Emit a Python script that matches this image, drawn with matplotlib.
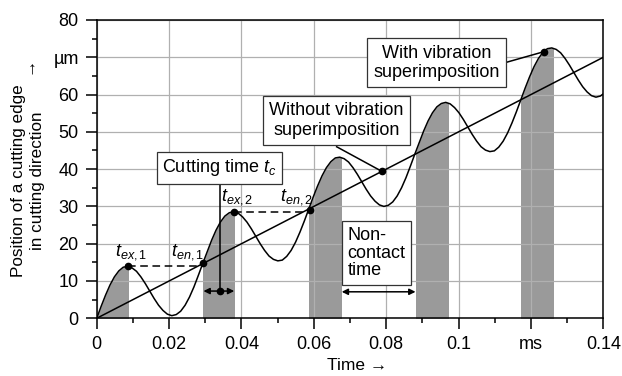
import numpy as np
import matplotlib.pyplot as plt
from matplotlib.patches import Rectangle
from matplotlib.ticker import MultipleLocator

plt.rcParams.update({
    'font.family': ['Liberation Sans', 'DejaVu Sans'],
    'font.size': 13,
    'mathtext.fontset': 'custom',
    'mathtext.rm': 'Liberation Sans',
    'mathtext.it': 'Liberation Sans:italic',
})

# cutting edge position with vibration superimposition (ms, um)
time = [
    0.00000, 0.00122, 0.00244, 0.00366, 0.00488, 0.00610, 0.00733, 0.00855,
    0.00977, 0.01099, 0.01221, 0.01343, 0.01465, 0.01587, 0.01709, 0.01831,
    0.01953, 0.02075, 0.02198, 0.02320, 0.02442, 0.02564, 0.02686, 0.02808,
    0.02930, 0.03052, 0.03174, 0.03296, 0.03418, 0.03540, 0.03663, 0.03785,
    0.03907, 0.04029, 0.04151, 0.04273, 0.04395, 0.04517, 0.04639, 0.04761,
    0.04883, 0.05005, 0.05128, 0.05250, 0.05372, 0.05494, 0.05616, 0.05738,
    0.05860, 0.05982, 0.06104, 0.06226, 0.06348, 0.06470, 0.06593, 0.06715,
    0.06837, 0.06959, 0.07081, 0.07203, 0.07325, 0.07447, 0.07569, 0.07691,
    0.07813, 0.07935, 0.08058, 0.08180, 0.08302, 0.08424, 0.08546, 0.08668,
    0.08790, 0.08912, 0.09034, 0.09156, 0.09278, 0.09400, 0.09523, 0.09645,
    0.09767, 0.09889, 0.10011, 0.10133, 0.10255, 0.10377, 0.10499, 0.10621,
    0.10743, 0.10865, 0.10988, 0.11110, 0.11232, 0.11354, 0.11476, 0.11598,
    0.11720, 0.11842, 0.11964, 0.12086, 0.12208, 0.12330, 0.12453, 0.12575,
    0.12697, 0.12819, 0.12941, 0.13063, 0.13185, 0.13307, 0.13429, 0.13551,
    0.13673, 0.13795, 0.13918, 0.14000,
]
position = [
    0.0, 3.2, 6.2, 8.9, 11.1, 12.7, 13.7, 13.9,
    13.5, 12.6, 11.1, 9.3, 7.3, 5.3, 3.5, 2.1,
    1.1, 0.7, 1.0, 1.9, 3.5, 5.7, 8.4, 11.5,
    14.7, 17.8, 20.9, 23.6, 25.8, 27.4, 28.3, 28.6,
    28.2, 27.2, 25.8, 24.0, 22.0, 20.0, 18.2, 16.7,
    15.8, 15.4, 15.6, 16.6, 18.2, 20.4, 23.1, 26.1,
    29.3, 32.5, 35.5, 38.2, 40.4, 42.0, 43.0, 43.2,
    42.8, 41.9, 40.4, 38.6, 36.6, 34.6, 32.8, 31.4,
    30.4, 30.0, 30.3, 31.2, 32.8, 35.0, 37.7, 40.8,
    44.0, 47.1, 50.2, 52.9, 55.1, 56.7, 57.6, 57.9,
    57.5, 56.5, 55.1, 53.3, 51.3, 49.3, 47.5, 46.0,
    45.1, 44.7, 44.9, 45.9, 47.5, 49.7, 52.4, 55.4,
    58.6, 61.8, 64.8, 67.5, 69.7, 71.3, 72.3, 72.5,
    72.1, 71.2, 69.7, 67.9, 65.9, 63.9, 62.1, 60.7,
    59.7, 59.3, 59.6, 60.2,
]

# without vibration
line_time = [0.0, 0.14]
line_position = [0.0, 70.0]

# contact phases (shaded)
contact_start = [0.0, 0.0295, 0.0587, 0.0881, 0.1173]
contact_end = [0.0087, 0.0380, 0.0676, 0.0970, 0.1262]

# marked points
t_ex1 = (0.0087, 14.0)
t_en1 = (0.0295, 14.7)
t_ex2 = (0.0380, 28.6)
t_en2 = (0.0589, 29.1)
no_vib_pt = (0.0788, 39.4)
vib_pt = (0.1236, 71.5)

xticks = [0, 0.02, 0.04, 0.06, 0.08, 0.1, 0.12, 0.14]
xticklabels = ['0', '0.02', '0.04', '0.06', '0.08', '0.1', 'ms', '0.14']
yticks = [0, 10, 20, 30, 40, 50, 60, 70, 80]
yticklabels = ['0', '10', '20', '30', '40', '50', '60', 'µm', '80']

fig = plt.figure(figsize=(6.22, 3.76), dpi=100)
ax = fig.add_axes([0.1555, 0.1535, 0.8145, 0.7934])

for a, b in zip(contact_start, contact_end):
    poly = ax.fill_between(time, 0, position, color='#9a9a9a', lw=0, zorder=1)
    poly.set_clip_path(Rectangle((a, 0), b - a, 80, transform=ax.transData))

ax.plot(time, position, color='black', lw=1.1, zorder=3)
ax.plot(line_time, line_position, color='black', lw=1.1, zorder=3)

# dashed level lines
ax.plot([t_ex1[0], t_en1[0]], [t_ex1[1], t_ex1[1]], '--', color='black', lw=1.1, dashes=(5, 3), zorder=3)
ax.plot([t_ex2[0], t_en2[0]], [t_ex2[1], t_ex2[1]], '--', color='black', lw=1.1, dashes=(5, 3), zorder=3)

pts = [t_ex1, t_en1, t_ex2, t_en2, no_vib_pt, vib_pt]
ax.plot([p[0] for p in pts], [p[1] for p in pts], 'o', color='black', ms=4.5, zorder=5)

ax.text(0.0095, 15.2, r'$t_{ex,1}$', ha='center', va='bottom', zorder=6)
ax.text(0.0252, 15.2, r'$t_{en,1}$', ha='center', va='bottom', zorder=6)
ax.text(0.0387, 29.8, r'$t_{ex,2}$', ha='center', va='bottom', zorder=6)
ax.text(0.0551, 29.8, r'$t_{en,2}$', ha='center', va='bottom', zorder=6)

box = dict(boxstyle='square,pad=0.3', fc='white', ec='#333333', lw=0.9)

# cutting time
ax.plot([0.0341, 0.0341], [37, 7.3], color='black', lw=1.1, zorder=4)
ax.plot([0.0341], [7.3], 'o', color='black', ms=4.5, zorder=5)
ax.annotate('', xy=(0.0295, 7.3), xytext=(0.0380, 7.3),
            arrowprops=dict(arrowstyle='<|-|>', color='black', lw=1.1,
                            mutation_scale=9, shrinkA=0, shrinkB=0), zorder=5)
ax.text(0.0338, 40.4, r'Cutting time $t_c$', ha='center', va='center', bbox=box, zorder=6)

# non-contact time
ax.annotate('', xy=(0.0677, 7.1), xytext=(0.0881, 7.1),
            arrowprops=dict(arrowstyle='<|-|>', color='black', lw=1.1,
                            mutation_scale=9, shrinkA=0, shrinkB=0), zorder=5)
ax.text(0.0693, 17.5, 'Non-\ncontact\ntime', ha='left', va='center',
        linespacing=1.05, bbox=box, zorder=6)

# leaders
ax.plot([0.0663, no_vib_pt[0]], [46.0, no_vib_pt[1]], color='black', lw=1.1, zorder=4)
ax.plot([0.1134, vib_pt[0]], [68.7, vib_pt[1]], color='black', lw=1.1, zorder=4)
ax.text(0.0663, 53.1, 'Without vibration\nsuperimposition', ha='center', va='center',
        linespacing=1.2, bbox=dict(box, boxstyle='square,pad=0.35'), zorder=6)
ax.text(0.0940, 68.5, 'With vibration\nsuperimposition', ha='center', va='center',
        linespacing=1.2, bbox=dict(box, boxstyle='square,pad=0.35'), zorder=6)

ax.set_xlim(0, 0.14)
ax.set_ylim(0, 80)
ax.set_xticks(xticks)
ax.set_xticklabels(xticklabels)
ax.set_yticks(yticks)
ax.set_yticklabels(yticklabels)
ax.xaxis.set_minor_locator(MultipleLocator(0.01))
ax.yaxis.set_minor_locator(MultipleLocator(5))
ax.tick_params(which='major', length=8, width=1.1, pad=5, labelsize=13)
ax.tick_params(which='minor', length=3.8, width=1.1)
ax.grid(True, which='major', color='#b0b0b0', lw=0.9)
for s in ax.spines.values():
    s.set_linewidth(1.1)

fig.text(28 / 622, 1 - 181 / 376, 'Position of a cutting edge\nin cutting direction',
         rotation=90, ha='center', va='center', ma='center', fontsize=12.3, linespacing=1.3)
fig.text(29 / 622, 1 - 65 / 376, '→', rotation=90, ha='center', va='center', fontsize=12.5)
fig.text(357 / 622, 1 - 365.5 / 376, 'Time →', ha='center', va='center', fontsize=12.5)

fig.savefig('out.png', dpi=100)
